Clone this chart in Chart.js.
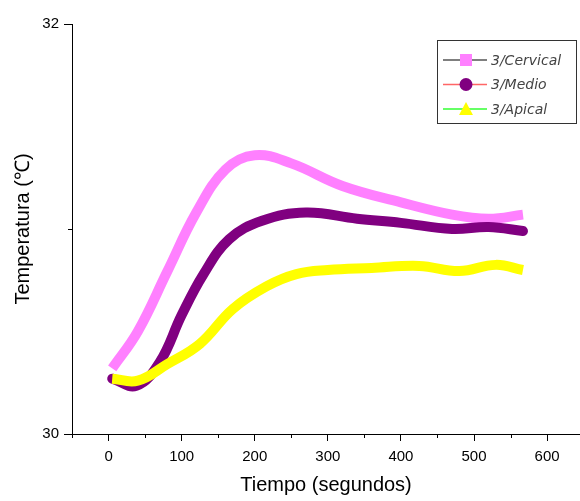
<!DOCTYPE html>
<html>
<head>
<meta charset="utf-8">
<script src="https://cdn.jsdelivr.net/npm/chart.js@4/dist/chart.umd.min.js"></script>
<style>
  html, body { margin: 0; padding: 0; background: #fff; }
  #wrap { width: 580px; height: 501px; }
</style>
</head>
<body>
<div id="wrap"><canvas id="tempChart" width="580" height="501"></canvas></div>
<script>
// sampled temperature readings (time in seconds, temperature in °C)
const cervicalTime = [5, 40, 80, 120, 160, 200, 250, 320, 400, 470, 520, 567];
const cervicalTemp = [30.32, 30.5, 30.79, 31.08, 31.29, 31.36, 31.32, 31.21, 31.13, 31.07, 31.05, 31.07];

const medioTime = [5, 38, 70, 100, 130, 165, 210, 270, 340, 400, 470, 520, 567];
const medioTemp = [30.27, 30.235, 30.35, 30.58, 30.78, 30.95, 31.04, 31.08, 31.05, 31.03, 31.0, 31.01, 30.99];

const apicalTime = [5, 40, 80, 125, 170, 216, 257, 300, 360, 425, 480, 530, 567];
const apicalTemp = [30.27, 30.26, 30.34, 30.44, 30.61, 30.72, 30.78, 30.8, 30.81, 30.82, 30.795, 30.825, 30.8];

const seriesNames = ['3/Cervical', '3/Medio', '3/Apical'];
const seriesColors = ['#ff80ff', '#800080', '#ffff00'];
const legendLineColors = ['#555555', '#ff6666', '#33ff33'];
const legendMarkers = ['square', 'circle', 'triangle'];

// labelled (major) ticks and the short unlabelled ones between them
const xMajorTicks = [0, 100, 200, 300, 400, 500, 600];
const xMinorTicks = [-50, 50, 150, 250, 350, 450, 550];
const yMajorTicks = [30, 32];
const yMinorTicks = [31];

const toPoints = (xs, ys) => xs.map((x, i) => ({ x: x, y: ys[i] }));

// short ticks at the half steps
const minorTicks = {
  id: 'minorTicks',
  afterDraw(chart) {
    const { ctx, scales: { x, y } } = chart;
    ctx.save();
    ctx.strokeStyle = '#000';
    ctx.lineWidth = 1;
    ctx.beginPath();
    xMinorTicks.forEach((v) => {
      const px = Math.round(x.getPixelForValue(v)) + 0.5;
      ctx.moveTo(px, x.top);
      ctx.lineTo(px, x.top + 4);
    });
    yMinorTicks.forEach((v) => {
      const py = Math.round(y.getPixelForValue(v)) + 0.5;
      ctx.moveTo(y.right, py);
      ctx.lineTo(y.right - 4, py);
    });
    ctx.stroke();
    ctx.restore();
  }
};

// boxed legend in the upper right: line sample with a marker on it
const boxLegend = {
  id: 'boxLegend',
  afterDraw(chart) {
    const ctx = chart.ctx;
    ctx.save();
    ctx.strokeStyle = '#333';
    ctx.lineWidth = 1;
    ctx.strokeRect(437.5, 40.5, 139, 83);
    seriesNames.forEach((name, i) => {
      const y = 60 + i * 24.5;
      ctx.strokeStyle = legendLineColors[i];
      ctx.lineWidth = 1.5;
      ctx.beginPath();
      ctx.moveTo(443, y);
      ctx.lineTo(487, y);
      ctx.stroke();

      ctx.fillStyle = seriesColors[i];
      ctx.beginPath();
      if (legendMarkers[i] === 'square') {
        ctx.rect(460, y - 6, 12, 12);
      } else if (legendMarkers[i] === 'circle') {
        ctx.arc(466, y, 6.5, 0, Math.PI * 2);
      } else {
        ctx.moveTo(466, y - 7);
        ctx.lineTo(473, y + 6);
        ctx.lineTo(459, y + 6);
        ctx.closePath();
      }
      ctx.fill();

      ctx.fillStyle = '#444';
      ctx.font = 'italic 14px "DejaVu Sans"';
      ctx.textBaseline = 'middle';
      ctx.fillText(name, 491, y + 1);
    });
    ctx.restore();
  }
};

const datasets = [
  { data: toPoints(cervicalTime, cervicalTemp), color: seriesColors[0], cap: 'butt', order: 2 },
  { data: toPoints(medioTime, medioTemp), color: seriesColors[1], cap: 'round', order: 1 },
  { data: toPoints(apicalTime, apicalTemp), color: seriesColors[2], cap: 'butt', order: 0 }
].map((d, i) => ({
  label: seriesNames[i],
  data: d.data,
  borderColor: d.color,
  backgroundColor: d.color,
  borderWidth: 10,
  borderCapStyle: d.cap,
  borderJoinStyle: 'round',
  showLine: true,
  pointRadius: 0,
  tension: 0.4,
  order: d.order
}));

const tickFont = { family: '"Liberation Sans", Arial, sans-serif', size: 15 };
const titleFont = { family: '"Liberation Sans", Arial, sans-serif', size: 20 };

new Chart(document.getElementById('tempChart'), {
  type: 'scatter',
  data: { datasets: datasets },
  options: {
    responsive: false,
    animation: false,
    layout: { padding: { top: 24, right: 0, left: 0, bottom: 0 } },
    plugins: {
      legend: { display: false },
      tooltip: { enabled: false }
    },
    scales: {
      x: {
        type: 'linear',
        min: -50,
        max: 645,
        afterFit: (s) => { s.height = 67; },
        afterBuildTicks: (s) => { s.ticks = xMajorTicks.map((v) => ({ value: v })); },
        border: { display: true, color: '#000', width: 1 },
        grid: { drawOnChartArea: false, drawTicks: true, tickLength: 7, color: '#000' },
        ticks: {
          maxRotation: 0,
          autoSkip: false,
          color: '#000',
          font: tickFont,
          padding: 7
        },
        title: {
          display: true,
          text: 'Tiempo (segundos)',
          color: '#000',
          font: titleFont,
          padding: { top: 0, bottom: 4 }
        }
      },
      y: {
        type: 'linear',
        min: 30,
        max: 32,
        afterFit: (s) => { s.width = 72; },
        afterBuildTicks: (s) => { s.ticks = yMajorTicks.map((v) => ({ value: v })); },
        border: { display: true, color: '#000', width: 1 },
        grid: { drawOnChartArea: false, drawTicks: true, tickLength: 8, color: '#000' },
        ticks: {
          color: '#000',
          font: tickFont,
          padding: 5
        },
        title: {
          display: true,
          text: 'Temperatura (\u2103)',
          color: '#000',
          font: titleFont,
          padding: { top: 11, bottom: 0 }
        }
      }
    }
  },
  plugins: [minorTicks, boxLegend]
});
</script>
</body>
</html>
